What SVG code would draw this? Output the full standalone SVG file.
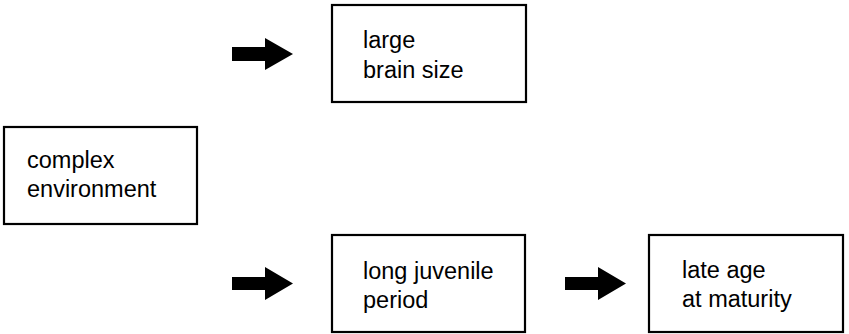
<svg xmlns="http://www.w3.org/2000/svg" width="849" height="334" viewBox="0 0 849 334">
<style>
.box{fill:#fff;stroke:#000;stroke-width:2.2}
.t{font-family:"Liberation Sans",Arial,sans-serif;font-size:23.5px;fill:#000}
.arr{fill:#000}
</style>
<rect width="849" height="334" fill="#fff"/>
<g id="connectors">
<polygon class="arr" points="232,47 265,47 265,38 293,54 265,70 265,61 232,61"/>
<polygon class="arr" points="232,277 265,277 265,267 293,283.5 265,300 265,290 232,290"/>
<polygon class="arr" points="565,277 598,277 598,267 626,283.5 598,300 598,290 565,290"/>
</g>
<g id="large-brain-size">
<rect class="box" x="332" y="5" width="194" height="97"/>
<text class="t" x="363" y="48">large</text>
<text class="t" x="363" y="78">brain size</text>
</g>
<g id="complex-environment">
<rect class="box" x="4" y="127" width="193" height="97"/>
<text class="t" x="27" y="168">complex</text>
<text class="t" x="27" y="197">environment</text>
</g>
<g id="long-juvenile-period">
<rect class="box" x="332" y="235" width="193" height="97"/>
<text class="t" x="363" y="279">long juvenile</text>
<text class="t" x="363" y="308">period</text>
</g>
<g id="late-age-at-maturity">
<rect class="box" x="649" y="235" width="194" height="97"/>
<text class="t" x="682" y="278">late age</text>
<text class="t" x="682" y="307">at maturity</text>
</g>
</svg>
